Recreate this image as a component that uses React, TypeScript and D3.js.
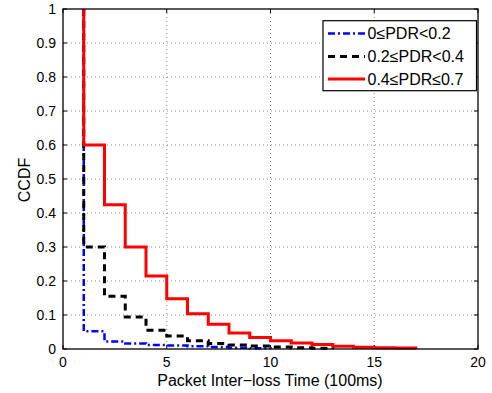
import React from "react";
import * as d3 from "d3";

const xTicks = [0, 5, 10, 15, 20];
const yTicks = [0, 0.1, 0.2, 0.3, 0.4, 0.5, 0.6, 0.7, 0.8, 0.9, 1];

const blueX = [1, 2, 3, 4, 5, 6, 7, 8, 9, 10];
const blueY = [0.052, 0.022, 0.016, 0.012, 0.01, 0.008, 0.006, 0.004, 0.002, 0];

const blackX = [1, 2, 3, 4, 5, 6, 7, 8, 9, 10, 11, 12, 13];
const blackY = [0.3, 0.155, 0.094, 0.055, 0.038, 0.024, 0.016, 0.012, 0.009, 0.006, 0.004, 0.002, 0];

const redX = [1, 2, 3, 4, 5, 6, 7, 8, 9, 10, 11, 12, 13, 14, 15, 16, 17];
const redY = [0.6, 0.424, 0.3, 0.215, 0.148, 0.104, 0.073, 0.047, 0.034, 0.024, 0.018, 0.013, 0.008, 0.005, 0.004, 0.003, 0];

const seriesNames = ["0≤PDR<0.2", "0.2≤PDR<0.4", "0.4≤PDR≤0.7"];

const W = 492, H = 393;
const L = 63, R = 478, T = 9, B = 349;

export default function App() {
  const x = d3.scaleLinear().domain([0, 20]).range([L, R]);
  const y = d3.scaleLinear().domain([0, 1]).range([B, T]);
  const line = d3
    .line<[number, number]>()
    .x((d) => x(d[0]))
    .y((d) => y(d[1]))
    .curve(d3.curveStepAfter);
  const mk = (xs: number[], ys: number[]) =>
    line([[xs[0], 1] as [number, number], ...xs.map((v, i) => [v, ys[i]] as [number, number])]) || "";

  const series = [
    { d: mk(blueX, blueY), color: "#0000ff", w: 2.5, dash: "7,3,2,3" },
    { d: mk(blackX, blackY), color: "#000000", w: 3, dash: "7,5" },
    { d: mk(redX, redY), color: "#ff0000", w: 3, dash: undefined as string | undefined },
  ];
  const font = "'Liberation Sans', Arial, Helvetica, sans-serif";
  const legRows = [33.5, 56.5, 79];

  return (
    <svg width={W} height={H} style={{ position: "absolute", left: 0, top: 0, background: "#fff" }} fontFamily={font}>
      <rect x={0} y={0} width={W} height={H} fill="#fff" />
      {/* grid */}
      {xTicks.slice(1, -1).map((t) => (
        <line key={"gx" + t} x1={x(t)} x2={x(t)} y1={T} y2={B} stroke="#888" strokeWidth={1} strokeDasharray="1,3" />
      ))}
      {yTicks.slice(1, -1).map((t) => (
        <line key={"gy" + t} x1={L} x2={R} y1={y(t)} y2={y(t)} stroke="#888" strokeWidth={1} strokeDasharray="1,3" />
      ))}
      {/* ticks */}
      {xTicks.map((t) => (
        <g key={"tx" + t}>
          <line x1={x(t)} x2={x(t)} y1={B} y2={B - 4} stroke="#000" />
          <line x1={x(t)} x2={x(t)} y1={T} y2={T + 4} stroke="#000" />
          <text x={x(t)} y={366.5} textAnchor="middle" fontSize={14}>{t}</text>
        </g>
      ))}
      {yTicks.map((t) => (
        <g key={"ty" + t}>
          <line x1={L} x2={L + 4} y1={y(t)} y2={y(t)} stroke="#000" />
          <line x1={R} x2={R - 4} y1={y(t)} y2={y(t)} stroke="#000" />
          <text x={56} y={y(t) + 5} textAnchor="end" fontSize={14}>{d3.format("")(t)}</text>
        </g>
      ))}
      {/* series */}
      {series.map((s, i) => (
        <path key={i} d={s.d} fill="none" stroke={s.color} strokeWidth={s.w} strokeDasharray={s.dash} />
      ))}
      {/* frame */}
      <rect x={L} y={T} width={R - L} height={B - T} fill="none" stroke="#000" strokeWidth={1.3} />
      {/* legend */}
      <rect x={323} y={20.7} width={153.5} height={70} fill="#fff" stroke="#000" strokeWidth={1.2} />
      {series.map((s, i) => (
        <g key={"lg" + i}>
          <line x1={328} x2={365} y1={legRows[i]} y2={legRows[i]} stroke={s.color} strokeWidth={s.w} strokeDasharray={s.dash} />
          <text x={367.5} y={legRows[i] + 5.5} fontSize={16}>{seriesNames[i]}</text>
        </g>
      ))}
      {/* axis labels */}
      <text x={270} y={385.5} textAnchor="middle" fontSize={16}>Packet Inter−loss Time (100ms)</text>
      <text transform={`translate(30,${180}) rotate(-90)`} textAnchor="middle" fontSize={16}>CCDF</text>
    </svg>
  );
}
